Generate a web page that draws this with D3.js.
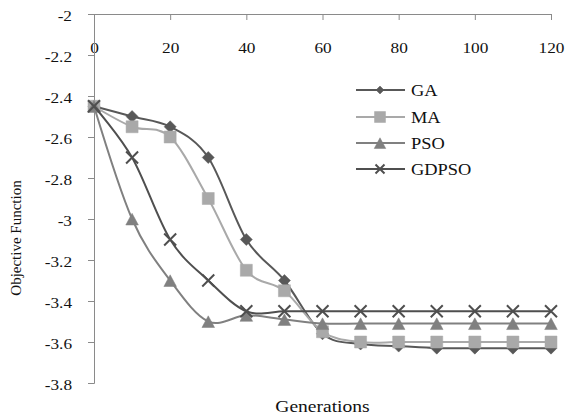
<!DOCTYPE html>
<html>
<head>
<meta charset="utf-8">
<script src="https://cdn.jsdelivr.net/npm/d3@7"></script>
<style>
  html, body { margin: 0; padding: 0; background: #fff; }
  svg { display: block; }
  text { font-family: "Liberation Serif", "Times New Roman", serif; fill: #111; }
</style>
</head>
<body>
<svg id="chart" width="567" height="416"></svg>
<script>
// ---- data ----
const generations = [0, 10, 20, 30, 40, 50, 60, 70, 80, 90, 100, 110, 120];
const seriesNames = ["GA", "MA", "PSO", "GDPSO"];
const gaValues    = [-2.45, -2.50, -2.55, -2.70, -3.10, -3.30, -3.56, -3.61, -3.62, -3.63, -3.63, -3.63, -3.63];
const maValues    = [-2.45, -2.55, -2.60, -2.90, -3.25, -3.35, -3.55, -3.60, -3.60, -3.60, -3.60, -3.60, -3.60];
const psoValues   = [-2.45, -3.00, -3.30, -3.50, -3.47, -3.49, -3.51, -3.51, -3.51, -3.51, -3.51, -3.51, -3.51];
const gdpsoValues = [-2.45, -2.70, -3.10, -3.30, -3.45, -3.45, -3.45, -3.45, -3.45, -3.45, -3.45, -3.45, -3.45];
const xTicks = [0, 20, 40, 60, 80, 100, 120];
const yTicks = [-2, -2.2, -2.4, -2.6, -2.8, -3, -3.2, -3.4, -3.6, -3.8];
const xTitle = "Generations";
const yTitle = "Objective Function";

const allValues = [gaValues, maValues, psoValues, gdpsoValues];
const colors = ["#585858", "#a9a9a9", "#808080", "#4f4f4f"];
const shapes = ["diamond", "square", "triangle", "x"];

// ---- layout ----
const svg = d3.select("#chart");
const x = d3.scaleLinear().domain([0, 120]).range([94, 551]);
const y = d3.scaleLinear().domain([-2, -3.8]).range([14, 383]);
const axisColor = "#8a8a8a";
const stretch = 1.15;

// x axis (at top, ticks pointing into plot)
const gx = svg.append("g").attr("transform", `translate(0,${y(-2)})`)
  .call(d3.axisBottom(x).tickValues(xTicks).tickSizeInner(6).tickSizeOuter(0).tickPadding(22).tickFormat(d3.format("d")));
gx.select(".domain").attr("stroke", axisColor).attr("d", `M${x(0) - 6},0.5H${x(120)}`);
gx.selectAll(".tick line").attr("stroke", axisColor);
gx.selectAll(".tick text")
  .attr("font-family", "Liberation Serif").attr("font-size", 15).attr("fill", "#111")
  .attr("transform", `scale(${stretch},1)`);

// y axis
const gy = svg.append("g").attr("transform", `translate(${x(0)},0)`)
  .call(d3.axisLeft(y).tickValues(yTicks).tickSizeInner(6).tickSizeOuter(6).tickPadding(0)
    .tickFormat(d => String(d)));
gy.select(".domain").attr("stroke", axisColor);
gy.selectAll(".tick line").attr("stroke", axisColor);
gy.selectAll(".tick text")
  .attr("font-family", "Liberation Serif").attr("font-size", 15).attr("fill", "#111")
  .attr("x", 0).attr("dy", "0.45em")
  .attr("transform", `translate(-22,0) scale(${stretch},1)`);

// axis titles
svg.append("text")
  .attr("transform", `translate(${(x(0) + x(120)) / 2},412) scale(${stretch},1)`)
  .attr("text-anchor", "middle").attr("font-size", 17).text(xTitle);
svg.append("text")
  .attr("transform", `translate(21,238) rotate(-90)`)
  .attr("text-anchor", "middle").attr("font-size", 15).text(yTitle);

// ---- markers ----
function markerPath(shape, s) {
  const h = s / 2;
  switch (shape) {
    case "diamond": return `M0,${-h}L${h},0L0,${h}L${-h},0Z`;
    case "square": return `M${-h},${-h}H${h}V${h}H${-h}Z`;
    case "triangle": return `M0,${-h * 0.95}L${h * 1.05},${h}L${-h * 1.05},${h}Z`;
    case "x": return `M${-h},${-h}L${h},${h}M${-h},${h}L${h},${-h}`;
  }
}
const markerSize = { diamond: 12, square: 12, triangle: 12, x: 12 };
const legendSize = { diamond: 8, square: 11, triangle: 11, x: 9 };

const line = d3.line().x(d => x(d[0])).y(d => y(d[1])).curve(d3.curveCatmullRom.alpha(0));

allValues.forEach((vals, i) => {
  const pts = generations.map((g, j) => [g, vals[j]]);
  const g = svg.append("g");
  g.append("path").datum(pts).attr("d", line)
    .attr("fill", "none").attr("stroke", colors[i]).attr("stroke-width", 2);
  g.selectAll("path.m").data(pts).join("path").attr("class", "m")
    .attr("transform", d => `translate(${x(d[0])},${y(d[1])})`)
    .attr("d", markerPath(shapes[i], markerSize[shapes[i]]))
    .attr("fill", shapes[i] === "x" ? "none" : colors[i])
    .attr("stroke", colors[i])
    .attr("stroke-width", shapes[i] === "x" ? 2 : 0.5);
});

// ---- legend ----
const legend = svg.append("g");
const legendRows = [90, 117, 143, 169];
seriesNames.forEach((name, i) => {
  const row = legend.append("g").attr("transform", `translate(0,${legendRows[i]})`);
  row.append("line").attr("x1", 356).attr("x2", 405).attr("y1", 0).attr("y2", 0)
    .attr("stroke", colors[i]).attr("stroke-width", 2);
  row.append("path").attr("transform", "translate(380,0)")
    .attr("d", markerPath(shapes[i], legendSize[shapes[i]]))
    .attr("fill", shapes[i] === "x" ? "none" : colors[i])
    .attr("stroke", colors[i]).attr("stroke-width", shapes[i] === "x" ? 2 : 0.5);
  row.append("text").attr("transform", `translate(411,0) scale(${stretch},1)`)
    .attr("dy", "0.36em").attr("font-size", 16).text(name);
});
</script>
</body>
</html>
